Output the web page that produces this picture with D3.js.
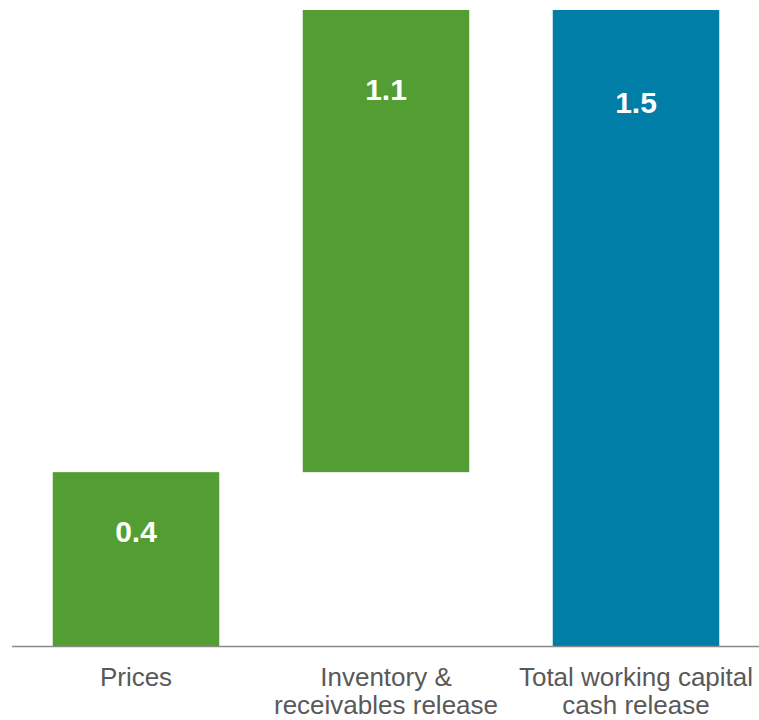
<!DOCTYPE html>
<html>
<head>
<meta charset="utf-8">
<script src="https://cdn.jsdelivr.net/npm/d3@7"></script>
<style>
  body { margin: 0; background: #fff; }
  svg { display: block; }
</style>
</head>
<body>
<div id="main"></div>
<script>
// data
var categories = [["Prices"], ["Inventory &", "receivables release"], ["Total working capital", "cash release"]];
var values = [0.41, 1.09, 1.5];
var kinds = ["step", "step", "total"];

var ctx = {
    w: 759,
    h: 720,
    base: 646,
    top: 10,
    green: "#529e32",
    blue: "#007ea7",
    labelDy: [70, 90, 103]   // where the value sits below each bar top
};

var svg = d3.select("#main").append("svg")
    .attr("width", ctx.w)
    .attr("height", ctx.h);

var x = d3.scaleBand()
    .domain(d3.range(categories.length))
    .range([11, 761])
    .paddingInner(0.334)
    .paddingOuter(0.167);

var y = d3.scaleLinear()
    .domain([0, 1.5])
    .range([ctx.base, ctx.top]);

// waterfall: each step sits on the running sum, totals start at zero
var run = 0;
var bars = values.map(function(v, i) {
    var lo = kinds[i] == "total" ? 0 : run;
    var hi = kinds[i] == "total" ? v : run + v;
    if (kinds[i] != "total") run += v;
    return {i: i, lo: lo, hi: hi, v: v, kind: kinds[i]};
});

svg.selectAll("rect.bar")
    .data(bars)
    .enter()
    .append("rect")
    .attr("class", "bar")
    .attr("x", function(d) { return x(d.i); })
    .attr("width", x.bandwidth())
    .attr("y", function(d) { return y(d.hi); })
    .attr("height", function(d) { return y(d.lo) - y(d.hi); })
    .style("fill", function(d) { return d.kind == "total" ? ctx.blue : ctx.green; });

// baseline
svg.append("line")
    .attr("x1", 12)
    .attr("x2", ctx.w)
    .attr("y1", y(0) + 0.5)
    .attr("y2", y(0) + 0.5)
    .style("stroke", "#898989")
    .style("stroke-width", 1.6);

// value labels
var fmt = d3.format(".1f");
svg.selectAll("text.val")
    .data(bars)
    .enter()
    .append("text")
    .attr("class", "val")
    .attr("x", function(d) { return x(d.i) + x.bandwidth() / 2; })
    .attr("y", function(d, i) { return y(d.hi) + ctx.labelDy[i]; })
    .attr("text-anchor", "middle")
    .style("font-family", "'Liberation Sans', Arial, sans-serif")
    .style("font-weight", "bold")
    .style("font-size", "30px")
    .style("fill", "#fff")
    .text(function(d) { return fmt(d.v); });

// category labels
var cats = svg.selectAll("text.cat")
    .data(categories)
    .enter()
    .append("text")
    .attr("class", "cat")
    .attr("transform", function(d, i) { return "translate(" + (x(i) + x.bandwidth() / 2) + "," + (y(0) + 40) + ")"; })
    .attr("text-anchor", "middle")
    .style("font-family", "'Liberation Sans', Arial, sans-serif")
    .style("font-size", "26px")
    .style("fill", "#595959");

cats.selectAll("tspan")
    .data(function(d) { return d; })
    .enter()
    .append("tspan")
    .attr("x", 0)
    .attr("dy", function(d, i) { return i == 0 ? 0 : 28; })
    .text(function(d) { return d; });
</script>
</body>
</html>
